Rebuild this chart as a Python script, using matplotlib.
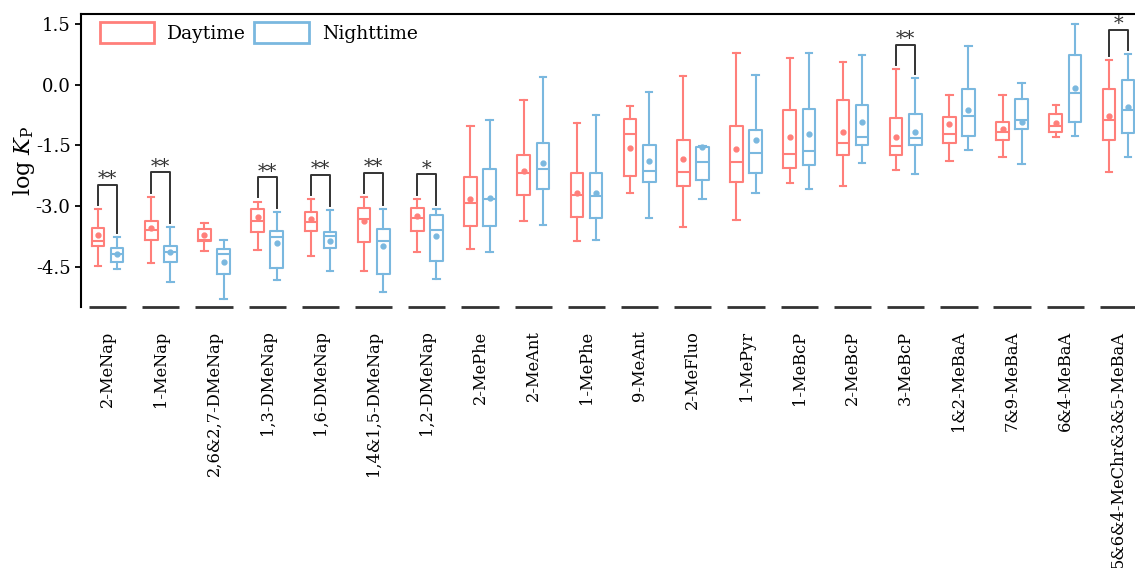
import numpy as np
import matplotlib
matplotlib.use('Agg')
import matplotlib.pyplot as plt
from matplotlib.patches import Patch

plt.rcParams['font.family'] = 'DejaVu Serif'
plt.rcParams['mathtext.fontset'] = 'dejavuserif'
plt.rcParams['axes.unicode_minus'] = False

categories = ['2-MeNap', '1-MeNap', '2,6&2,7-DMeNap', '1,3-DMeNap', '1,6-DMeNap',
              '1,4&1,5-DMeNap', '1,2-DMeNap', '2-MePhe', '2-MeAnt', '1-MePhe',
              '9-MeAnt', '2-MeFluo', '1-MePyr', '1-MeBcP', '2-MeBcP', '3-MeBcP',
              '1&2-MeBaA', '7&9-MeBaA', '6&4-MeBaA', '5&6&4-MeChr&3&5-MeBaA']

# daytime box stats (log Kp)
day_hi = [-3.08, -2.77, -3.41, -2.89, -2.83, -2.79, -2.82, -1.02, -0.37, -0.95,
          -0.53, 0.21, 0.78, 0.67, 0.56, 0.39, -0.25, -0.25, -0.50, 0.61]
day_q3 = [-3.55, -3.37, -3.56, -3.08, -3.14, -3.05, -3.06, -2.28, -1.75, -2.18,
          -0.86, -1.38, -1.01, -0.63, -0.37, -0.82, -0.79, -0.92, -0.73, -0.10]
day_med = [-3.86, -3.59, -3.84, -3.36, -3.39, -3.33, -3.31, -2.93, -2.18, -2.74,
           -1.21, -2.15, -1.91, -1.72, -1.43, -1.52, -1.23, -1.16, -1.01, -0.87]
day_q1 = [-4.00, -3.84, -3.87, -3.65, -3.63, -3.90, -3.61, -3.49, -2.74, -3.28,
          -2.27, -2.51, -2.40, -2.07, -1.75, -1.73, -1.43, -1.38, -1.16, -1.36]
day_lo = [-4.48, -4.42, -4.12, -4.10, -4.25, -4.60, -4.15, -4.07, -3.38, -3.86,
          -2.69, -3.52, -3.35, -2.43, -2.50, -2.11, -1.88, -1.78, -1.29, -2.16]
day_mean = [-3.72, -3.54, -3.71, -3.27, -3.32, -3.36, -3.25, -2.83, -2.13, -2.69,
            -1.56, -1.83, -1.59, -1.29, -1.16, -1.29, -0.96, -1.10, -0.95, -0.77]

# nighttime box stats
night_hi = [-3.76, -3.53, -3.84, -3.14, -3.11, -3.07, -3.07, -0.87, 0.19, -0.76,
            -0.17, -1.51, 0.24, 0.78, 0.74, 0.16, 0.96, 0.05, 1.50, 0.75]
night_q3 = [-4.05, -4.00, -4.06, -3.63, -3.65, -3.56, -3.23, -2.08, -1.43, -2.18,
            -1.48, -1.54, -1.12, -0.60, -0.51, -0.73, -0.11, -0.36, 0.73, 0.11]
night_med = [-4.19, -4.15, -4.19, -3.77, -3.74, -3.86, -3.59, -2.84, -2.08, -2.76,
             -2.14, -1.90, -1.70, -1.63, -1.29, -1.31, -0.77, -0.88, -0.20, -0.63]
night_q1 = [-4.39, -4.39, -4.68, -4.54, -4.05, -4.68, -4.37, -3.49, -2.57, -3.30,
            -2.41, -2.35, -2.19, -1.99, -1.50, -1.48, -1.26, -1.10, -0.92, -1.19]
night_lo = [-4.57, -4.89, -5.29, -4.83, -4.60, -5.13, -4.81, -4.14, -3.47, -3.84,
            -3.31, -2.84, -2.69, -2.58, -1.93, -2.22, -1.62, -1.95, -1.27, -1.80]
night_mean = [-4.19, -4.15, -4.38, -3.92, -3.86, -3.98, -3.74, -2.80, -1.94, -2.69,
              -1.89, -1.55, -1.37, -1.21, -0.91, -1.17, -0.63, -0.91, -0.07, -0.54]

sig_idx = [0, 1, 3, 4, 5, 6, 15, 19]
sig_lab = ['**', '**', '**', '**', '**', '*', '**', '*']

yticks = [1.5, 0.0, -1.5, -3.0, -4.5]

red = '#FF7F7A'
blue = '#7AB8DF'
dark = '#333333'


def make_stats(lo, q1, med, q3, hi, mean):
    return [dict(whislo=a, q1=b, med=c, q3=d, whishi=e, mean=f, fliers=[])
            for a, b, c, d, e, f in zip(lo, q1, med, q3, hi, mean)]


fig = plt.figure(figsize=(11.35, 5.68), dpi=100)
ax = fig.add_axes([81 / 1135, 1 - 307 / 568, 1 - 81 / 1135, (307 - 14) / 568])

x = np.arange(len(categories))
off = 0.18
bw = 0.237

for stats, pos, col in [(make_stats(day_lo, day_q1, day_med, day_q3, day_hi, day_mean), x - off, red),
                        (make_stats(night_lo, night_q1, night_med, night_q3, night_hi, night_mean), x + off, blue)]:
    ax.bxp(stats, positions=pos, widths=bw, capwidths=0.12, showmeans=True, showfliers=False,
           boxprops=dict(color=col, linewidth=1.5),
           whiskerprops=dict(color=col, linewidth=1.5),
           capprops=dict(color=col, linewidth=1.5),
           medianprops=dict(color=col, linewidth=1.5),
           meanprops=dict(marker='o', markerfacecolor=col, markeredgecolor=col, markersize=3.5),
           manage_ticks=False)

# significance brackets
for i, lab in zip(sig_idx, sig_lab):
    top = max(day_hi[i], night_hi[i]) + 0.6
    ax.plot([i - off, i - off, i + off, i + off],
            [day_hi[i] + 0.1, top, top, night_hi[i] + 0.1], color=dark, lw=1.4)
    ax.text(i, top - 0.08, lab, ha='center', va='bottom', fontsize=14, color=dark)

ax.set_xlim(-0.5, 19.31)
ax.set_ylim(-5.5, 1.75)

# short dashes under each category instead of a bottom axis
ax.hlines(np.full(len(x), -5.5), x - 0.35, x + 0.35, color=dark, lw=2, clip_on=False)

ax.set_xticks(x)
ax.set_xticklabels(categories, rotation=90, fontsize=11.7, va='top')
ax.tick_params(axis='x', length=0, pad=17)
ax.set_yticks(yticks)
ax.set_yticklabels([f'{v:.1f}' for v in yticks], fontsize=13)
ax.tick_params(axis='y', direction='out', length=4, width=1.3)
ax.set_ylabel(r'log $K_\mathrm{P}$', fontsize=16, labelpad=-1)

for s in ['right', 'bottom']:
    ax.spines[s].set_visible(False)
for s in ['left', 'top']:
    ax.spines[s].set_linewidth(1.5)
    ax.spines[s].set_color('black')

handles = [Patch(facecolor='white', edgecolor=red, lw=2, label='Daytime'),
           Patch(facecolor='white', edgecolor=blue, lw=2, label='Nighttime')]
ax.legend(handles=handles, loc='upper left', bbox_to_anchor=(0.007, 1.01), ncol=2,
          frameon=False, fontsize=13.5, handlelength=2.9, handleheight=1.35,
          handletextpad=0.7, columnspacing=0.45, borderaxespad=0.2)

fig.savefig('out.png', dpi=100)
